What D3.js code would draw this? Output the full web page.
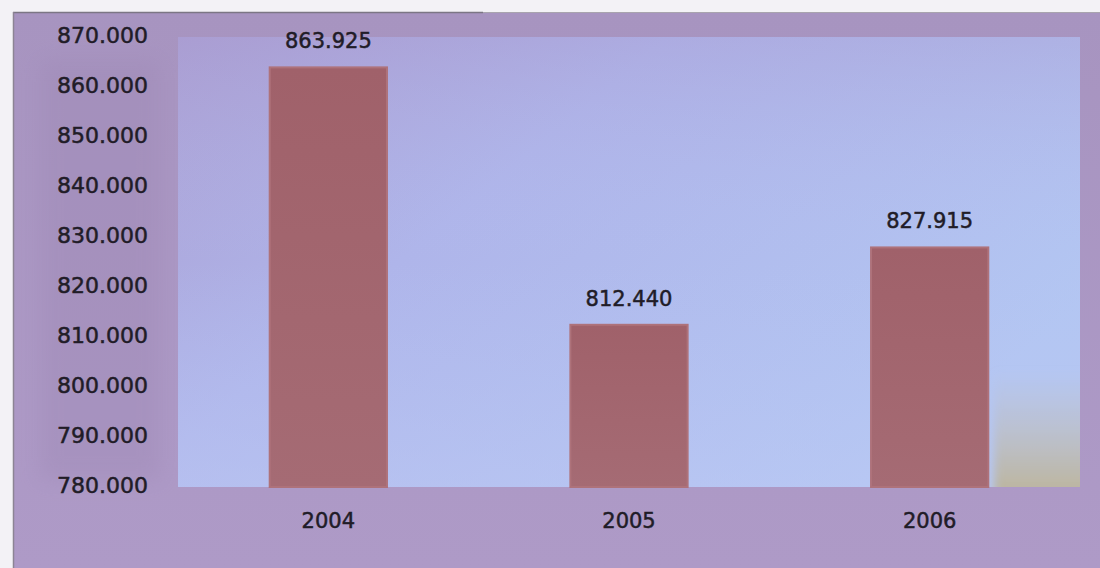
<!DOCTYPE html>
<html>
<head>
<meta charset="utf-8">
<script src="https://cdn.jsdelivr.net/npm/d3@7"></script>
<style>
  body { margin: 0; background: #f3f2f6; }
  svg { display: block; }
</style>
</head>
<body>
<svg id="chart" width="1100" height="568"></svg>
<script>
// values
var years = ["2004", "2005", "2006"];
var totals = [863925, 812440, 827915];
var yTicks = [780000, 790000, 800000, 810000, 820000, 830000, 840000, 850000, 860000, 870000];

var W = 1100, H = 568;
var plot = {left: 178, right: 1080, top: 37, bottom: 487};
var textColor = "#211c27";

var svg = d3.select("#chart");
var defs = svg.append("defs");

// dotted thousands, like "863.925"
var fmt = function(v) {
    return d3.format(",.0f")(v).replace(/,/g, ".");
};

//Backgrounds
var frameGrad = defs.append("linearGradient").attr("id", "frameGrad")
    .attr("x1", 0).attr("y1", 0).attr("x2", 0).attr("y2", 1);
frameGrad.append("stop").attr("offset", "0%").attr("stop-color", "#a794c0");
frameGrad.append("stop").attr("offset", "100%").attr("stop-color", "#ae9ac7");

var plotGrad = defs.append("linearGradient").attr("id", "plotGrad")
    .attr("x1", 0).attr("y1", 0).attr("x2", 1).attr("y2", 0.6);
plotGrad.append("stop").attr("offset", "0%").attr("stop-color", "#ab9fd3");
plotGrad.append("stop").attr("offset", "40%").attr("stop-color", "#afb5ea");
plotGrad.append("stop").attr("offset", "100%").attr("stop-color", "#b3c6f2");

var plotShade = defs.append("linearGradient").attr("id", "plotShade")
    .attr("x1", 0).attr("y1", 0).attr("x2", 0).attr("y2", 1);
plotShade.append("stop").attr("offset", "0%").attr("stop-color", "#a89ad0").attr("stop-opacity", 0.35);
plotShade.append("stop").attr("offset", "50%").attr("stop-color", "#b6c4f4").attr("stop-opacity", 0);
plotShade.append("stop").attr("offset", "100%").attr("stop-color", "#bcc8f4").attr("stop-opacity", 0.5);

var warmGrad = defs.append("linearGradient").attr("id", "warmGrad")
    .attr("x1", 0).attr("y1", 0).attr("x2", 0).attr("y2", 1);
warmGrad.append("stop").attr("offset", "0%").attr("stop-color", "#c4c0b8").attr("stop-opacity", 0);
warmGrad.append("stop").attr("offset", "100%").attr("stop-color", "#bcb49a").attr("stop-opacity", 1);

var soft = defs.append("filter").attr("id", "soft")
    .attr("x", "-30%").attr("y", "-30%").attr("width", "160%").attr("height", "160%");
soft.append("feGaussianBlur").attr("stdDeviation", 10);

var softer = defs.append("filter").attr("id", "softer")
    .attr("x", "-30%").attr("y", "-30%").attr("width", "160%").attr("height", "160%");
softer.append("feGaussianBlur").attr("stdDeviation", 5);

var barGrad = defs.append("linearGradient").attr("id", "barGrad")
    .attr("x1", 0).attr("y1", 0).attr("x2", 0).attr("y2", 1);
barGrad.append("stop").attr("offset", "0%").attr("stop-color", "#a0616a");
barGrad.append("stop").attr("offset", "100%").attr("stop-color", "#a56b74");

svg.append("rect")
    .attr("x", 13).attr("y", 12)
    .attr("width", W - 13).attr("height", H - 12)
    .attr("fill", "url(#frameGrad)");

// soft darker patch behind the y labels
svg.append("rect")
    .attr("x", 40).attr("y", 60)
    .attr("width", 120).attr("height", 420)
    .attr("fill", "#9d87b4").attr("opacity", 0.35)
    .attr("filter", "url(#soft)");

svg.append("line")
    .attr("x1", 13).attr("x2", 483).attr("y1", 12.5).attr("y2", 12.5)
    .attr("stroke", "#7b7684").attr("stroke-width", 1.5);
svg.append("line")
    .attr("x1", 483).attr("x2", W).attr("y1", 12.5).attr("y2", 12.5)
    .attr("stroke", "#a8a4ae").attr("stroke-width", 1);
svg.append("line")
    .attr("x1", 13.5).attr("x2", 13.5).attr("y1", 12).attr("y2", H)
    .attr("stroke", "#8c8494").attr("stroke-width", 1.5);

svg.append("rect")
    .attr("x", plot.left).attr("y", plot.top)
    .attr("width", plot.right - plot.left).attr("height", plot.bottom - plot.top)
    .attr("fill", "url(#plotGrad)");
svg.append("rect")
    .attr("x", plot.left).attr("y", plot.top)
    .attr("width", plot.right - plot.left).attr("height", plot.bottom - plot.top)
    .attr("fill", "url(#plotShade)");

// warm tint in the lower right corner
var clip = defs.append("clipPath").attr("id", "plotClip");
clip.append("rect")
    .attr("x", plot.left).attr("y", plot.top)
    .attr("width", plot.right - plot.left).attr("height", plot.bottom - plot.top);
svg.append("g").attr("clip-path", "url(#plotClip)")
    .append("rect")
    .attr("x", 994).attr("y", 370)
    .attr("width", 110).attr("height", 125)
    .attr("fill", "url(#warmGrad)")
    .attr("filter", "url(#softer)");

//Scales
var x = d3.scaleBand()
    .domain(years)
    .range([plot.left, plot.right])
    .paddingInner(0.61)
    .paddingOuter(0.305);

var y = d3.scaleLinear()
    .domain([780000, 870000])
    .range([plot.bottom, plot.top]);

//Bars
svg.selectAll("rect.bar")
    .data(years)
    .enter().append("rect")
    .attr("class", "bar")
    .attr("x", d => x(d))
    .attr("width", x.bandwidth())
    .attr("y", (d, i) => y(totals[i]))
    .attr("height", (d, i) => plot.bottom - y(totals[i]))
    .attr("fill", "url(#barGrad)")
    .attr("stroke", "#ae727a")
    .attr("stroke-width", 2);

//Value labels
svg.selectAll("text.value")
    .data(years)
    .enter().append("text")
    .attr("class", "value")
    .attr("x", d => x(d) + x.bandwidth() / 2)
    .attr("y", (d, i) => y(totals[i]) - 19)
    .attr("text-anchor", "middle")
    .attr("font-family", "DejaVu Sans")
    .attr("font-size", 21)
    .attr("fill", textColor)
    .attr("stroke", textColor)
    .attr("stroke-width", 0.5)
    .text((d, i) => fmt(totals[i]));

//Axes
var yAxis = d3.axisLeft(y)
    .tickValues(yTicks)
    .tickFormat(fmt)
    .tickSize(0)
    .tickPadding(0);

var yG = svg.append("g")
    .attr("transform", "translate(148,-2)")
    .call(yAxis);
yG.select(".domain").remove();
yG.selectAll("text")
    .attr("font-family", "DejaVu Sans")
    .attr("font-size", 22)
    .attr("fill", textColor)
    .attr("stroke", textColor)
    .attr("stroke-width", 0.5);

var xAxis = d3.axisBottom(x)
    .tickSize(0)
    .tickPadding(0);

var xG = svg.append("g")
    .attr("transform", "translate(0," + (plot.bottom + 26) + ")")
    .call(xAxis);
xG.select(".domain").remove();
xG.selectAll("text")
    .attr("font-family", "DejaVu Sans")
    .attr("font-size", 21)
    .attr("fill", textColor)
    .attr("stroke", textColor)
    .attr("stroke-width", 0.5);
</script>
</body>
</html>
